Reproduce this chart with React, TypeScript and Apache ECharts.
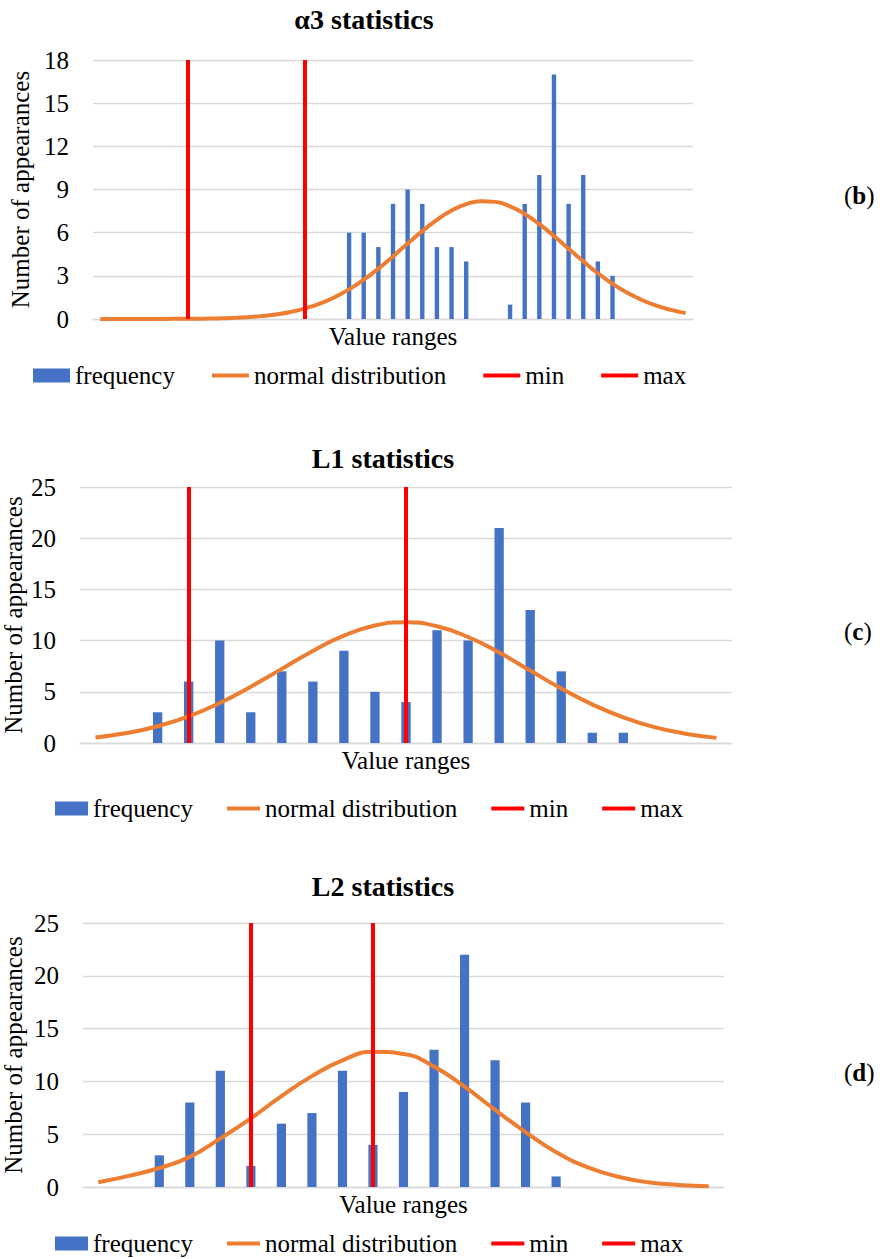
import React, { useEffect, useRef } from 'react';
import * as echarts from 'echarts';

const FONT = '"Liberation Serif", "Times New Roman", serif';

// ---- data ----
const catsB = Array.from({ length: 41 }, (_, i) => `b${i + 1}`);
const freqB = [0, 0, 0, 0, 0, 0, 0, 0, 0, 0, 0, 0, 0, 0, 0, 0, 0, 6, 6, 5, 8, 9, 8, 5, 5, 4, 0, 0, 1, 8, 10, 17, 8, 10, 4, 3, 0, 0, 0, 0, 0];
const normB = [0, 0, 0, 0, 0, 0.01, 0.01, 0.02, 0.04, 0.07, 0.12, 0.2, 0.32, 0.49, 0.74, 1.07, 1.51, 2.06, 2.73, 3.5, 4.35, 5.24, 6.11, 6.89, 7.54, 7.98, 8.19, 8.14, 7.83, 7.3, 6.59, 5.77, 4.88, 4.01, 3.18, 2.45, 1.83, 1.32, 0.93, 0.63, 0.41];
const minB = 6;
const maxB = 14;

const catsC = Array.from({ length: 21 }, (_, i) => `c${i + 1}`);
const freqC = [0, 0, 3, 6, 10, 3, 7, 6, 9, 5, 4, 11, 10, 21, 13, 7, 1, 1, 0, 0, 0];
const normC = [0.54, 0.97, 1.64, 2.6, 3.9, 5.5, 7.24, 8.99, 10.48, 11.47, 11.8, 11.4, 10.35, 8.83, 7.07, 5.32, 3.77, 2.5, 1.55, 0.91, 0.5];
const minC = 3;
const maxC = 10;

const catsD = Array.from({ length: 21 }, (_, i) => `d${i + 1}`);
const freqD = [0, 0, 3, 8, 11, 2, 6, 7, 11, 4, 9, 13, 22, 12, 8, 1, 0, 0, 0, 0, 0];
const normD = [0.45, 1.05, 1.8, 2.85, 4.6, 6.5, 8.6, 10.5, 12.0, 12.8, 12.6, 11.4, 9.5, 7.3, 5.2, 3.3, 1.9, 1.0, 0.45, 0.2, 0.07];
const minD = 5;
const maxD = 9;

const titles = ['α3 statistics', 'L1 statistics', 'L2 statistics'];
const panelTags = ['b', 'c', 'd'];
const yMax = [18, 25, 25];
const yInterval = [3, 5, 5];

const BLUE = '#4472C4';
const ORANGE = '#ED7D31';
const RED = '#FF0000';
const GRID_COLOR = '#D9D9D9';

const lineIcon = (w: number) => `path://M0,0M0,5L${w},5L${w},9L0,9ZM${w},14`;

export default function App() {
  const ref = useRef<HTMLDivElement>(null);

  useEffect(() => {
    if (!ref.current) return;
    const chart = echarts.init(ref.current, undefined, { renderer: 'svg' });

    const panels = [
      { cats: catsB, freq: freqB, norm: normB, min: minB, max: maxB },
      { cats: catsC, freq: freqC, norm: normC, min: minC, max: maxC },
      { cats: catsD, freq: freqD, norm: normD, min: minD, max: maxD },
    ];

    const grids = [
      { left: 93, top: 60, width: 600, height: 259, outerBoundsMode: 'none', containLabel: false },
      { left: 80, top: 487, width: 652, height: 256, outerBoundsMode: 'none', containLabel: false },
      { left: 83, top: 923, width: 641, height: 264, outerBoundsMode: 'none', containLabel: false },
    ];
    const yNameGap = [60, 54, 57];
    const titlePos = [
      { x: 364, y: 5 },
      { x: 383, y: 444 },
      { x: 383, y: 872 },
    ];
    const tagPos = [
      { x: 844, y: 183 },
      { x: 844, y: 619 },
      { x: 844, y: 1060 },
    ];
    const legendPos = [
      { x: 33, y: 363, iw: 37, gap: 37 },
      { x: 55, y: 796, iw: 33, gap: 34 },
      { x: 55, y: 1231, iw: 33, gap: 34 },
    ];

    const textBase = { fontFamily: FONT, fontSize: 25, color: '#000' };

    const title: any[] = [];
    const xAxis: any[] = [];
    const yAxis: any[] = [];
    const legend: any[] = [];
    const series: any[] = [];

    panels.forEach((p, k) => {
      title.push({
        text: titles[k],
        left: titlePos[k].x,
        top: titlePos[k].y,
        textAlign: 'center',
        padding: 0,
        textStyle: { fontFamily: FONT, fontSize: 28, fontWeight: 'bold', color: '#000' },
      });
      title.push({
        text: '({t|' + panelTags[k] + '})',
        left: tagPos[k].x,
        top: tagPos[k].y,
        padding: 0,
        textStyle: {
          ...textBase,
          fontWeight: 'normal',
          rich: { t: { ...textBase, fontWeight: 'bold' } },
        },
      });
      xAxis.push({
        type: 'category',
        gridIndex: k,
        data: p.cats,
        boundaryGap: true,
        axisTick: { show: false },
        axisLabel: { show: false },
        axisLine: { show: true, lineStyle: { color: GRID_COLOR, width: 1.3 } },
        splitLine: { show: false },
        name: 'Value ranges',
        nameLocation: 'middle',
        nameGap: 5,
        nameMoveOverlap: false,
        nameTextStyle: { ...textBase, verticalAlign: 'top' },
      });
      yAxis.push({
        type: 'value',
        gridIndex: k,
        min: 0,
        max: yMax[k],
        interval: yInterval[k],
        axisLine: { show: false },
        axisTick: { show: false },
        axisLabel: { ...textBase, margin: 24 },
        splitLine: { lineStyle: { color: GRID_COLOR, width: 1.3 } },
        name: 'Number of appearances',
        nameLocation: 'middle',
        nameGap: yNameGap[k],
        nameMoveOverlap: false,
        nameTextStyle: { ...textBase },
      });
      const icon = lineIcon(legendPos[k].iw);
      legend.push({
        left: legendPos[k].x,
        top: legendPos[k].y,
        padding: 0,
        itemWidth: legendPos[k].iw,
        itemHeight: 14,
        itemGap: legendPos[k].gap,
        selectedMode: false,
        textStyle: { ...textBase },
        itemStyle: { borderWidth: 0 },
        data: [
          { name: 'frequency', icon: 'rect', itemStyle: { color: BLUE, borderWidth: 0 } },
          { name: 'normal distribution', icon, itemStyle: { color: ORANGE, borderWidth: 0 } },
          { name: 'min', icon, itemStyle: { color: RED, borderWidth: 0 } },
          { name: 'max', icon, itemStyle: { color: RED, borderWidth: 0 } },
        ],
      });
      series.push({
        type: 'bar',
        name: 'frequency',
        xAxisIndex: k,
        yAxisIndex: k,
        data: p.freq,
        barWidth: '30%',
        color: BLUE,
        itemStyle: { color: BLUE },
        z: 2,
      });
      series.push({
        type: 'line',
        name: 'normal distribution',
        xAxisIndex: k,
        yAxisIndex: k,
        data: p.norm,
        smooth: true,
        symbol: 'none',
        color: ORANGE,
        lineStyle: { color: ORANGE, width: 4 },
        z: 3,
      });
      (['min', 'max'] as const).forEach((nm) => {
        series.push({
          type: 'line',
          name: nm,
          xAxisIndex: k,
          yAxisIndex: k,
          data: [],
          color: RED,
          symbol: 'none',
          z: 4,
          markLine: {
            silent: true,
            symbol: ['none', 'none'],
            label: { show: false },
            lineStyle: { color: RED, width: 4, type: 'solid' },
            emphasis: { disabled: true },
            data: [{ xAxis: p.cats[nm === 'min' ? p.min : p.max] }],
          },
        });
      });
    });

    chart.setOption({
      animation: false,
      backgroundColor: '#ffffff',
      title,
      grid: grids,
      xAxis,
      yAxis,
      legend,
      series,
    });

    return () => chart.dispose();
  }, []);

  return (
    <div
      ref={ref}
      style={{ position: 'absolute', left: 0, top: 0, width: 887, height: 1259 }}
    />
  );
}
